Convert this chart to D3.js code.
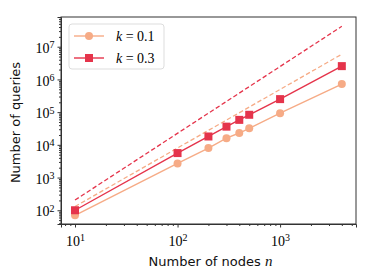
<!DOCTYPE html>
<html>
<head>
<meta charset="utf-8">
<script src="https://cdn.jsdelivr.net/npm/d3@7"></script>
<style>
  body { margin: 0; background: #fff; }
  .tick text { font-family: "Liberation Serif", "DejaVu Serif", serif; }
</style>
</head>
<body>
<div id="chart"></div>
<script>
// number of nodes n
const nodes = [10, 100, 200, 300, 400, 500, 1000, 4000];
// measured queries
const queriesK01 = [70, 2700, 8000, 16000, 23000, 32000, 93000, 720000];
const queriesK03 = [100, 5600, 18000, 36000, 58000, 83000, 250000, 2550000];
// dashed bound lines (endpoints)
const boundN = [10, 4000];
const boundK01 = [130, 5.9e6];
const boundK03 = [205, 4.2e7];

const xTicks = [10, 100, 1000];
const yTicks = [1e2, 1e3, 1e4, 1e5, 1e6, 1e7];
const legendLabels = ["0.1", "0.3"];

const colK01 = "#f6ab86";
const colK03 = "#e5344b";

const W = 374, H = 280;
const margin = { top: 17, right: 18, bottom: 56, left: 61 };
const width = W - margin.left - margin.right;
const height = H - margin.top - margin.bottom;

const svg = d3.select("#chart").append("svg")
  .attr("width", W).attr("height", H)
  .append("g")
  .attr("transform", `translate(${margin.left},${margin.top})`);

const x = d3.scaleLog().domain([7.3, 5500]).range([0, width]);
const y = d3.scaleLog().domain([38, 8.1e7]).range([height, 0]);

// minor ticks
const xMinor = [];
for (let e = 0; e <= 3; e++) for (let m = 2; m <= 9; m++) {
  const v = m * Math.pow(10, e);
  if (v > 7.3 && v < 5500) xMinor.push(v);
}
const yMinor = [];
for (let e = 1; e <= 7; e++) for (let m = 2; m <= 9; m++) {
  const v = m * Math.pow(10, e);
  if (v > 38 && v < 8.1e7) yMinor.push(v);
}

svg.append("g").attr("transform", `translate(0,${height})`)
  .call(d3.axisBottom(x).tickValues(xMinor).tickSize(2).tickFormat(""))
  .call(g => g.select(".domain").remove());
svg.append("g")
  .call(d3.axisLeft(y).tickValues(yMinor).tickSize(2).tickFormat(""))
  .call(g => g.select(".domain").remove());

const supFmt = (sel, exp) => {
  sel.text("");
  sel.append("tspan").text("10");
  sel.append("tspan").attr("dy", "-0.45em").attr("font-size", "10px").text(exp);
};

const xAx = svg.append("g").attr("transform", `translate(0,${height})`)
  .call(d3.axisBottom(x).tickValues(xTicks).tickSize(3.5).tickPadding(4));
xAx.selectAll(".tick text").attr("font-size", "14px")
  .each(function(d) { supFmt(d3.select(this), Math.round(Math.log10(d))); })
  .attr("dy", "1em");

const yAx = svg.append("g")
  .call(d3.axisLeft(y).tickValues(yTicks).tickSize(3.5).tickPadding(3));
yAx.selectAll(".tick text").attr("font-size", "14px")
  .each(function(d) { supFmt(d3.select(this), Math.round(Math.log10(d))); })
  .attr("dy", "0.4em");

svg.selectAll(".domain").attr("stroke", "#333");
svg.selectAll(".tick line").attr("stroke", "#333");

// frame
svg.append("rect").attr("width", width).attr("height", height)
  .attr("fill", "none").attr("stroke", "#333").attr("stroke-width", 1);

// dashed bounds
const line = d3.line().x(d => x(d[0])).y(d => y(d[1]));
svg.append("path").datum(boundN.map((n, i) => [n, boundK03[i]]))
  .attr("d", line).attr("fill", "none").attr("stroke", colK03)
  .attr("stroke-width", 1.3).attr("stroke-dasharray", "4.5,2.5");
svg.append("path").datum(boundN.map((n, i) => [n, boundK01[i]]))
  .attr("d", line).attr("fill", "none").attr("stroke", colK01)
  .attr("stroke-width", 1.3).attr("stroke-dasharray", "4.5,2.5");

// k = 0.1 series
svg.append("path").datum(nodes.map((n, i) => [n, queriesK01[i]]))
  .attr("d", line).attr("fill", "none").attr("stroke", colK01).attr("stroke-width", 1.4);
svg.selectAll(".c01").data(nodes).enter().append("circle")
  .attr("cx", d => x(d)).attr("cy", (d, i) => y(queriesK01[i]))
  .attr("r", 4).attr("fill", colK01);

// k = 0.3 series
svg.append("path").datum(nodes.map((n, i) => [n, queriesK03[i]]))
  .attr("d", line).attr("fill", "none").attr("stroke", colK03).attr("stroke-width", 1.4);
svg.selectAll(".s03").data(nodes).enter().append("rect")
  .attr("x", d => x(d) - 4).attr("y", (d, i) => y(queriesK03[i]) - 4)
  .attr("width", 8).attr("height", 8).attr("fill", colK03);

// legend
const leg = svg.append("g").attr("transform", "translate(8,7)");
leg.append("rect").attr("width", 95).attr("height", 45).attr("rx", 3)
  .attr("fill", "#fff").attr("fill-opacity", 0.8)
  .attr("stroke", "#ddd").attr("stroke-width", 1);
[colK01, colK03].forEach((c, i) => {
  const gy = 12 + i * 22;
  leg.append("line").attr("x1", 5).attr("x2", 35).attr("y1", gy).attr("y2", gy)
    .attr("stroke", c).attr("stroke-width", 1.4);
  if (i === 0) leg.append("circle").attr("cx", 20).attr("cy", gy).attr("r", 4).attr("fill", c);
  else leg.append("rect").attr("x", 16).attr("y", gy - 4).attr("width", 8).attr("height", 8).attr("fill", c);
  const t = leg.append("text").attr("x", 47).attr("y", gy + 5)
    .attr("font-family", "'Liberation Serif', 'DejaVu Serif', serif").attr("font-size", "14px");
  t.append("tspan").attr("font-style", "italic").text("k");
  t.append("tspan").text(" = " + legendLabels[i]);
});

// axis titles
svg.append("text").attr("x", width / 2 + 2).attr("y", height + 42)
  .attr("text-anchor", "middle").attr("font-family", "'DejaVu Sans', sans-serif")
  .attr("font-size", "13px").attr("fill", "#111")
  .call(t => {
    t.append("tspan").text("Number of nodes ");
    t.append("tspan").attr("font-family", "'Liberation Serif', serif").attr("font-style", "italic").attr("font-size", "15px").text("n");
  });
svg.append("text").attr("transform", "rotate(-90)")
  .attr("x", -height / 2 - 2).attr("y", -41)
  .attr("text-anchor", "middle").attr("font-family", "'DejaVu Sans', sans-serif")
  .attr("font-size", "13px").attr("fill", "#111")
  .text("Number of queries");
</script>
</body>
</html>
